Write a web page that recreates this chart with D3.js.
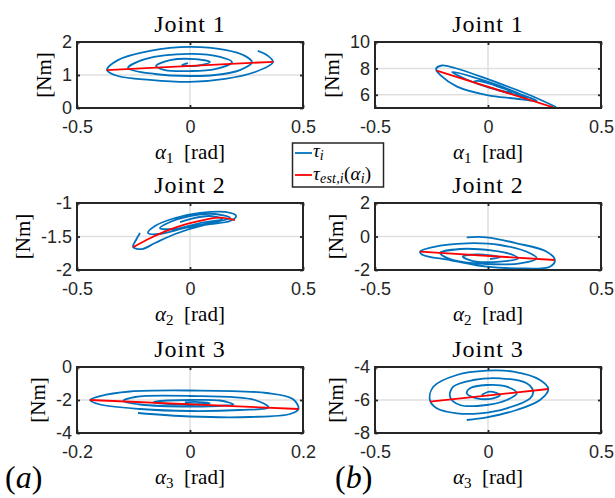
<!DOCTYPE html>
<html>
<head>
<meta charset="utf-8">
<script src="https://cdn.jsdelivr.net/npm/d3@7"></script>
<style>
  body { margin: 0; background: #fff; }
  svg { display: block; }
</style>
</head>
<body>
<svg id="chart"></svg>
<script>
// [alpha, tau] samples, one array per panel
const tauA1 = [[0.30,1.73],[0.345,1.58],[0.367,1.39],[0.288,1.09],[0.155,0.88],[0,0.79],[-0.177,0.85],[-0.319,0.97],[-0.367,1.15],[-0.319,1.45],[-0.177,1.73],[0,1.85],[0.155,1.76],[0.243,1.58],[0.274,1.39],[0.221,1.15],[0.111,1.0],[0,0.97],[-0.155,1.03],[-0.274,1.21],[-0.199,1.48],[0,1.64],[0.133,1.55],[0.186,1.39],[0.111,1.18],[0,1.12],[-0.111,1.15],[-0.15,1.27],[-0.088,1.45],[0.022,1.48],[0.088,1.39],[0.022,1.27],[-0.035,1.30],[-0.009,1.36]];
const estA1 = [[-0.369,1.15],[0.369,1.40]];

const tauB1 = [[0.301,5.08],[0.173,6.06],[-0.004,7.2],[-0.146,8.03],[-0.204,8.22],[-0.23,7.95],[-0.208,7.45],[-0.137,6.62],[-0.004,5.98],[0.119,5.72],[0.217,5.53],[0.142,6.06],[0.053,6.67],[-0.08,7.42],[-0.159,7.73],[-0.10,7.2],[0.009,6.52],[0.142,5.91],[0.177,5.76],[0.075,6.44],[-0.044,7.05],[-0.062,6.97],[0.031,6.44],[0.106,6.14]];
const estB1 = [[-0.227,7.83],[0.289,5.05]];

const tauA2 = [[-0.221,-1.448],[-0.239,-1.552],[-0.252,-1.657],[-0.212,-1.687],[-0.155,-1.597],[-0.066,-1.463],[0.066,-1.328],[0.177,-1.269],[0.204,-1.194],[0.155,-1.134],[0.044,-1.149],[-0.066,-1.224],[-0.155,-1.343],[-0.186,-1.448],[-0.133,-1.463],[-0.022,-1.373],[0.111,-1.284],[0.177,-1.224],[0.111,-1.164],[0,-1.194],[-0.088,-1.284],[-0.133,-1.373],[-0.066,-1.388],[0.044,-1.299],[0.142,-1.239],[0.088,-1.194],[0,-1.239],[-0.044,-1.284]];
const estA2 = [[-0.252,-1.661],[-0.177,-1.527],[-0.102,-1.413],[-0.013,-1.313],[0.075,-1.243],[0.133,-1.219],[0.199,-1.254]];

const tauB2 = [[-0.094,-0.048],[-0.006,-0.048],[0.127,-0.406],[0.26,-0.907],[0.296,-1.403],[0.274,-1.803],[0.127,-1.899],[-0.006,-1.803],[-0.168,-1.403],[-0.288,-1.104],[-0.301,-0.907],[-0.243,-0.627],[-0.094,-0.406],[0.053,-0.507],[0.186,-1.003],[0.215,-1.301],[0.142,-1.6],[-0.006,-1.642],[-0.154,-1.403],[-0.205,-1.104],[-0.212,-0.985],[-0.124,-0.746],[0.022,-0.848],[0.111,-1.104],[0.133,-1.301],[0.053,-1.504],[-0.066,-1.463],[-0.111,-1.206],[-0.05,-1.063],[0.053,-1.242],[0.009,-1.343]];
const estB2 = [[-0.301,-0.907],[0.296,-1.403]];

const tauA3 = [[-0.092,-2.788],[0,-3.0],[0.106,-3.03],[0.177,-2.848],[0.192,-2.545],[0.182,-1.939],[0.136,-1.576],[0,-1.424],[-0.106,-1.485],[-0.159,-1.758],[-0.177,-2.0],[-0.159,-2.273],[-0.088,-2.545],[0,-2.667],[0.088,-2.606],[0.139,-2.455],[0.115,-2.0],[0,-1.758],[-0.097,-1.818],[-0.118,-2.061],[-0.088,-2.273],[0,-2.394],[0.062,-2.333],[0.077,-2.273],[0.053,-2.03],[0,-2.0],[-0.053,-2.061],[-0.065,-2.152],[-0.035,-2.242],[0.027,-2.242],[0.035,-2.2],[0.009,-2.109],[-0.009,-2.152]];
const estA3 = [[-0.177,-2.0],[0.192,-2.545]];

const tauB3 = [[-0.094,-7.212],[-0.006,-7.048],[0.127,-6.606],[0.23,-6.0],[0.267,-5.333],[0.23,-4.788],[0.112,-4.285],[-0.006,-4.224],[-0.138,-4.485],[-0.242,-5.194],[-0.257,-6.0],[-0.227,-6.503],[-0.138,-6.806],[-0.035,-6.806],[0.083,-6.503],[0.186,-5.897],[0.2,-5.497],[0.171,-4.988],[0.053,-4.685],[-0.065,-4.788],[-0.154,-5.194],[-0.168,-5.8],[-0.124,-6.303],[-0.006,-6.303],[0.083,-6.0],[0.127,-5.594],[0.083,-5.194],[-0.006,-5.091],[-0.08,-5.291],[-0.094,-5.594],[-0.05,-5.897],[0.023,-5.897],[0.053,-5.697],[0.009,-5.497],[-0.028,-5.697]];
const estB3 = [[-0.257,-6.1],[0.267,-5.333]];

// ticks
const xTicksWide = [-0.5, 0, 0.5];
const xLabelsWide = ["-0.5", "0", "0.5"];
const xTicksNarrow = [-0.2, 0, 0.2];
const xLabelsNarrow = ["-0.2", "0", "0.2"];
const yTicksA1 = [0, 1, 2], yLabelsA1 = ["0", "1", "2"];
const yTicksB1 = [6, 8, 10], yLabelsB1 = ["6", "8", "10"];
const yTicksA2 = [-2, -1.5, -1], yLabelsA2 = ["-2", "-1.5", "-1"];
const yTicksB2 = [-2, 0, 2], yLabelsB2 = ["-2", "0", "2"];
const yTicksA3 = [-4, -2, 0], yLabelsA3 = ["-4", "-2", "0"];
const yTicksB3 = [-8, -6, -4], yLabelsB3 = ["-8", "-6", "-4"];

const titles = ["Joint 1", "Joint 2", "Joint 3"];

const width = 615, height = 498;
const blue = "#0072BD", red = "#FF0000", axisColor = "#262626";
const serif = "'Liberation Serif', 'Times New Roman', serif";
const sans = "'Liberation Sans', Arial, sans-serif";

const cols = [[77, 303], [375, 601]];
const rows = [[42, 108], [203, 270], [367, 433]];

const panels = [
  {col: 0, row: 0, tau: tauA1, est: estA1, xd: [-0.5, 0.5], yd: [0, 2], xt: xTicksWide, xl: xLabelsWide, yt: yTicksA1, yl: yLabelsA1},
  {col: 1, row: 0, tau: tauB1, est: estB1, xd: [-0.5, 0.5], yd: [5, 10], xt: xTicksWide, xl: xLabelsWide, yt: yTicksB1, yl: yLabelsB1},
  {col: 0, row: 1, tau: tauA2, est: estA2, xd: [-0.5, 0.5], yd: [-2, -1], xt: xTicksWide, xl: xLabelsWide, yt: yTicksA2, yl: yLabelsA2},
  {col: 1, row: 1, tau: tauB2, est: estB2, xd: [-0.5, 0.5], yd: [-2, 2], xt: xTicksWide, xl: xLabelsWide, yt: yTicksB2, yl: yLabelsB2},
  {col: 0, row: 2, tau: tauA3, est: estA3, xd: [-0.2, 0.2], yd: [-4, 0], xt: xTicksNarrow, xl: xLabelsNarrow, yt: yTicksA3, yl: yLabelsA3},
  {col: 1, row: 2, tau: tauB3, est: estB3, xd: [-0.5, 0.5], yd: [-8, -4], xt: xTicksWide, xl: xLabelsWide, yt: yTicksB3, yl: yLabelsB3}
];

const svg = d3.select("#chart")
    .attr("width", width)
    .attr("height", height);

const defs = svg.append("defs");

panels.forEach((p, i) => {
    const [x0, x1] = cols[p.col];
    const [y0, y1] = rows[p.row];
    const x = d3.scaleLinear().domain(p.xd).range([x0, x1]);
    const y = d3.scaleLinear().domain(p.yd).range([y1, y0]);
    const g = svg.append("g");

    defs.append("clipPath").attr("id", "clip" + i)
        .append("rect")
        .attr("x", x0).attr("y", y0)
        .attr("width", x1 - x0).attr("height", y1 - y0);

    // grid on interior ticks
    g.selectAll(".gx")
        .data(p.xt.filter(v => v > p.xd[0] && v < p.xd[1]))
        .enter().append("line")
        .attr("x1", d => x(d)).attr("x2", d => x(d))
        .attr("y1", y0).attr("y2", y1)
        .attr("stroke", "#dfdfdf").attr("stroke-width", 1.5);
    g.selectAll(".gy")
        .data(p.yt.filter(v => v > p.yd[0] && v < p.yd[1]))
        .enter().append("line")
        .attr("x1", x0).attr("x2", x1)
        .attr("y1", d => y(d)).attr("y2", d => y(d))
        .attr("stroke", "#dfdfdf").attr("stroke-width", 1.5);

    // measured torque
    const curve = d3.line()
        .x(d => x(d[0]))
        .y(d => y(d[1]))
        .curve(d3.curveCatmullRom.alpha(0.5));

    g.append("path")
        .datum(p.tau)
        .attr("clip-path", `url(#clip${i})`)
        .attr("fill", "none")
        .attr("stroke", blue)
        .attr("stroke-width", 1.8)
        .attr("stroke-linejoin", "round")
        .attr("d", curve);

    // estimate
    g.append("path")
        .datum(p.est)
        .attr("clip-path", `url(#clip${i})`)
        .attr("fill", "none")
        .attr("stroke", red)
        .attr("stroke-width", 1.8)
        .attr("d", curve);

    // axes with inward ticks
    g.append("g")
        .attr("transform", `translate(0,${y1})`)
        .call(d3.axisBottom(x).tickValues(p.xt)
            .tickFormat((d, k) => p.xl[k])
            .tickSizeInner(-3).tickSizeOuter(0).tickPadding(12));
    const yAxis = g.append("g")
        .attr("transform", `translate(${x0},0)`)
        .call(d3.axisLeft(y).tickValues(p.yt)
            .tickFormat((d, k) => p.yl[k])
            .tickSizeInner(-3).tickSizeOuter(0).tickPadding(5));
    g.append("g")
        .attr("transform", `translate(0,${y0})`)
        .call(d3.axisTop(x).tickValues(p.xt).tickFormat("")
            .tickSizeInner(-3).tickSizeOuter(0));
    g.append("g")
        .attr("transform", `translate(${x1},0)`)
        .call(d3.axisRight(y).tickValues(p.yt).tickFormat("")
            .tickSizeInner(-3).tickSizeOuter(0));

    g.selectAll(".domain").remove();
    g.selectAll(".tick line")
        .attr("stroke", axisColor)
        .attr("stroke-width", 1.8);
    g.selectAll(".tick text")
        .style("font-family", sans)
        .style("font-size", "18px")
        .attr("fill", axisColor);

    // box
    g.append("rect")
        .attr("x", x0).attr("y", y0)
        .attr("width", x1 - x0).attr("height", y1 - y0)
        .attr("fill", "none")
        .attr("stroke", axisColor)
        .attr("stroke-width", 2);

    // title
    g.append("text")
        .attr("x", (x0 + x1) / 2)
        .attr("y", y0 - 10)
        .attr("text-anchor", "middle")
        .style("font-family", serif)
        .style("font-size", "24px")
        .style("letter-spacing", "1px")
        .attr("fill", "#000")
        .text(titles[p.row]);

    // x label: alpha_n [rad]
    const xl = g.append("text")
        .attr("x", (x0 + x1) / 2)
        .attr("y", y1 + 51)
        .attr("text-anchor", "middle")
        .style("font-family", serif)
        .style("font-size", "21px")
        .attr("fill", "#000");
    xl.append("tspan").style("font-style", "italic").text("\u03b1");
    xl.append("tspan").attr("dy", 4).style("font-size", "15px").text(String(p.row + 1));
    xl.append("tspan").attr("dy", -4).text("\u2002[rad]");

    // y label, placed left of the widest tick label
    const left = d3.min(yAxis.selectAll("text").nodes(), n => n.getBoundingClientRect().left);
    g.append("text")
        .attr("transform", `translate(${left - 18},${(y0 + y1) / 2}) rotate(-90)`)
        .attr("text-anchor", "middle")
        .attr("dy", "0.33em")
        .style("font-family", serif)
        .style("font-size", "21px")
        .attr("fill", "#000")
        .text("[Nm]");
});

// legend
const leg = svg.append("g");
leg.append("rect")
    .attr("x", 292.5).attr("y", 143)
    .attr("width", 91).attr("height", 44)
    .attr("fill", "#fff")
    .attr("stroke", axisColor)
    .attr("stroke-width", 1.5);
leg.append("line")
    .attr("x1", 295).attr("x2", 312).attr("y1", 153).attr("y2", 153)
    .attr("stroke", blue).attr("stroke-width", 1.8);
leg.append("line")
    .attr("x1", 295).attr("x2", 312).attr("y1", 175).attr("y2", 175)
    .attr("stroke", red).attr("stroke-width", 1.8);

const t1 = leg.append("text")
    .attr("x", 313).attr("y", 157)
    .style("font-family", serif).style("font-size", "19px");
t1.append("tspan").style("font-style", "italic").text("\u03c4");
t1.append("tspan").attr("dy", 3).style("font-style", "italic").style("font-size", "14px").text("i");

const t2 = leg.append("text")
    .attr("x", 313).attr("y", 180)
    .style("font-family", serif).style("font-size", "19px")
    .style("letter-spacing", "0.2px");
t2.append("tspan").style("font-style", "italic").text("\u03c4");
t2.append("tspan").attr("dy", 3).style("font-style", "italic").style("font-size", "14px").text("est,i");
t2.append("tspan").attr("dy", -3).text("(");
t2.append("tspan").style("font-style", "italic").text("\u03b1");
t2.append("tspan").attr("dy", 3).style("font-style", "italic").style("font-size", "14px").text("i");
t2.append("tspan").attr("dy", -3).text(")");

// panel letters
[["a", 5], ["b", 335]].forEach(([letter, px]) => {
    const t = svg.append("text")
        .attr("x", px).attr("y", 488)
        .style("font-family", serif)
        .style("font-size", "32px")
        .attr("fill", "#000");
    t.append("tspan").text("(");
    t.append("tspan").style("font-style", "italic").text(letter);
    t.append("tspan").text(")");
});
</script>
</body>
</html>
